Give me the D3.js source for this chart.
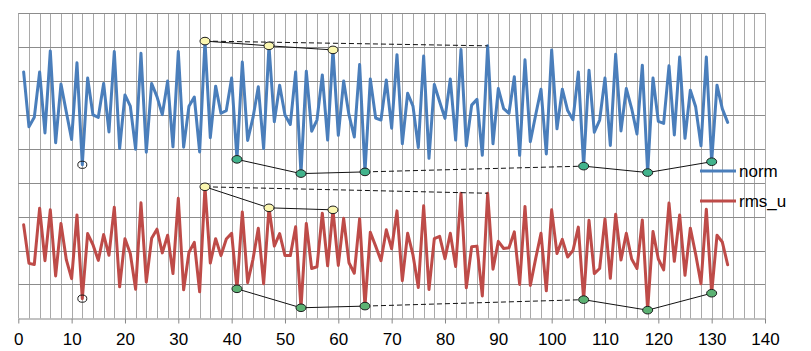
<!DOCTYPE html>
<html>
<head>
<meta charset="utf-8">
<script src="https://cdn.jsdelivr.net/npm/d3@7"></script>
<style>
  html, body { margin: 0; padding: 0; background: #fff; }
  svg { display: block; font-family: "Liberation Sans", Arial, sans-serif; }
</style>
</head>
<body>
<svg id="chart" width="811" height="351"></svg>
<script>
// ---- data ----
const norm = [
  7.27,5.65,5.93,7.27,5.47,7.89,5.18,6.91,6.09,5.28,
  7.54,4.53,7.09,6.00,5.93,6.93,5.50,7.87,5.01,6.59,
  6.26,4.99,7.82,4.90,6.93,6.54,6.01,7.00,5.06,7.87,
  5.05,6.26,6.53,4.91,8.18,5.33,6.85,6.05,6.13,7.09,
  4.69,7.56,5.25,5.92,6.83,5.01,8.04,5.80,6.88,6.00,
  5.72,7.27,4.27,7.29,5.52,5.85,7.18,5.26,7.92,5.40,
  7.00,6.00,5.35,7.49,4.32,7.06,5.91,5.85,7.03,5.61,
  7.78,5.15,6.64,6.26,5.04,7.74,4.72,6.90,6.39,5.90,
  7.06,5.26,7.93,5.09,6.29,6.46,4.81,8.04,5.15,6.78,
  6.19,6.05,7.13,4.81,7.63,5.21,6.00,6.76,4.85,7.92,
  5.59,6.76,6.13,5.86,7.27,4.49,7.32,5.49,5.85,7.09,
  5.10,7.79,5.53,6.78,6.19,5.44,7.47,4.30,7.09,5.81,
  5.75,7.45,5.41,7.71,5.31,6.73,6.24,5.09,7.71,4.62,
  6.88,6.18,5.78
];
const rms_u = [
  2.76,1.62,1.59,3.25,1.70,3.20,1.25,2.80,1.73,1.17,
  3.05,0.58,2.50,2.17,1.71,2.47,1.86,3.28,0.93,2.35,
  1.91,0.86,3.41,1.07,2.36,2.63,1.93,2.45,1.32,3.54,
  0.84,1.95,2.24,0.78,3.88,1.63,2.35,1.85,2.34,2.51,
  0.87,3.14,1.05,1.74,2.66,1.02,3.26,2.13,2.50,1.85,
  1.85,2.70,0.31,2.80,1.47,1.52,3.10,1.55,3.20,1.56,
  2.95,1.64,1.33,2.94,0.36,2.54,2.13,1.70,2.61,2.05,
  3.17,1.11,2.51,1.87,0.91,3.32,0.85,2.35,2.42,1.76,
  2.51,1.53,3.69,0.90,2.11,2.13,0.66,3.69,1.45,2.27,
  2.06,2.08,2.55,1.00,3.30,0.97,1.76,2.51,0.81,3.20,
  1.91,2.33,1.81,2.00,2.69,0.55,2.89,1.32,1.47,2.93,
  1.18,3.07,1.72,2.51,1.75,1.47,2.90,0.24,2.56,1.75,
  1.43,3.40,1.68,3.05,1.27,2.66,1.89,1.02,3.22,0.74,
  2.45,2.25,1.58
];
const xCategories = norm.map((_, i) => i + 1);
const xTickLabels = [0,10,20,30,40,50,60,70,80,90,100,110,120,130,140];
const seriesNames = ["norm", "rms_u"];

// annotation point indices (x categories)
const hollowIdx = [12];
const upperIdx = [35, 47, 59];
const upperDashed = [35, 88];
const lowerIdxA = [41, 53, 65];
const lowerDashed = [65, 106];
const lowerIdxB = [106, 118, 130];

// ---- layout ----
const svg = d3.select("#chart");
const x = d3.scaleLinear().domain([0, 140]).range([18.3, 765]);
const y = d3.scaleLinear().domain([0, 9]).range([318.3, 13.3]);

const colors = { norm: "#4a7ebb", rms_u: "#be4b48" };
const greenFill = { norm: "#42b38c", rms_u: "#5cb273" };

// gridlines
const grid = svg.append("g");
grid.selectAll("line.v").data(d3.range(0, 141, 2)).join("line")
  .attr("x1", d => Math.round(x(d)) + 0.5).attr("x2", d => Math.round(x(d)) + 0.5)
  .attr("y1", y(9)).attr("y2", y(0))
  .attr("stroke", "#a9a9a9").attr("stroke-width", 1);
grid.selectAll("line.h").data(d3.range(1, 10, 1)).join("line")
  .attr("x1", x(0)).attr("x2", x(140))
  .attr("y1", d => Math.round(y(d)) + 0.5).attr("y2", d => Math.round(y(d)) + 0.5)
  .attr("stroke", "#8c8c8c").attr("stroke-width", 1);

// x axis
const axis = svg.append("g")
  .attr("transform", `translate(0,${Math.round(y(0)) + 0.5})`)
  .call(d3.axisBottom(x).tickValues(xTickLabels).tickSize(5).tickPadding(9).tickSizeOuter(0));
axis.select(".domain").attr("stroke", "#868686");
axis.selectAll(".tick line").attr("stroke", "#868686");
axis.selectAll(".tick text").attr("font-size", 17).attr("fill", "#000")
  .attr("font-family", "Liberation Sans, Arial, sans-serif");

// series lines
const line = d3.line().x((d, i) => x(xCategories[i])).y(d => y(d));
const seriesData = { norm, rms_u };
seriesNames.forEach(name => {
  svg.append("path").datum(seriesData[name])
    .attr("d", line).attr("fill", "none")
    .attr("stroke", colors[name]).attr("stroke-width", 3)
    .attr("stroke-linejoin", "round").attr("stroke-linecap", "round");
});

// annotations
const pt = (arr, idx) => [x(idx), y(arr[idx - 1])];
seriesNames.forEach(name => {
  const arr = seriesData[name];
  const g = svg.append("g");
  const conn = (idxs, dashed) => g.append("path")
    .attr("d", d3.line()(idxs.map(i => pt(arr, i))))
    .attr("fill", "none").attr("stroke", "#111").attr("stroke-width", 1)
    .attr("stroke-dasharray", dashed ? "5,3" : null);
  conn(upperDashed, true);
  conn(lowerDashed, true);
  conn(upperIdx, false);
  conn(lowerIdxA, false);
  conn(lowerIdxB, false);
  const mark = (idxs, fill, rx, ry) => g.selectAll(null).data(idxs).join("ellipse")
    .attr("cx", i => pt(arr, i)[0]).attr("cy", i => pt(arr, i)[1])
    .attr("rx", rx).attr("ry", ry)
    .attr("fill", fill).attr("stroke", "#1a1a1a").attr("stroke-width", 1);
  mark(hollowIdx, "none", 4.5, 3.6);
  mark(upperIdx, "#fbf7b0", 5, 3.8);
  mark(lowerIdxA, greenFill[name], 5, 3.8);
  mark(lowerIdxB, greenFill[name], 5, 3.8);
});

// legend
const legend = svg.append("g");
seriesNames.forEach((name, k) => {
  const ly = 171 + k * 30;
  legend.append("line").attr("x1", 700).attr("x2", 736).attr("y1", ly).attr("y2", ly)
    .attr("stroke", colors[name]).attr("stroke-width", 3);
  legend.append("text").attr("x", 739).attr("y", ly).attr("dy", "0.35em")
    .attr("font-size", 17).attr("fill", "#000").text(name);
});
</script>
</body>
</html>
